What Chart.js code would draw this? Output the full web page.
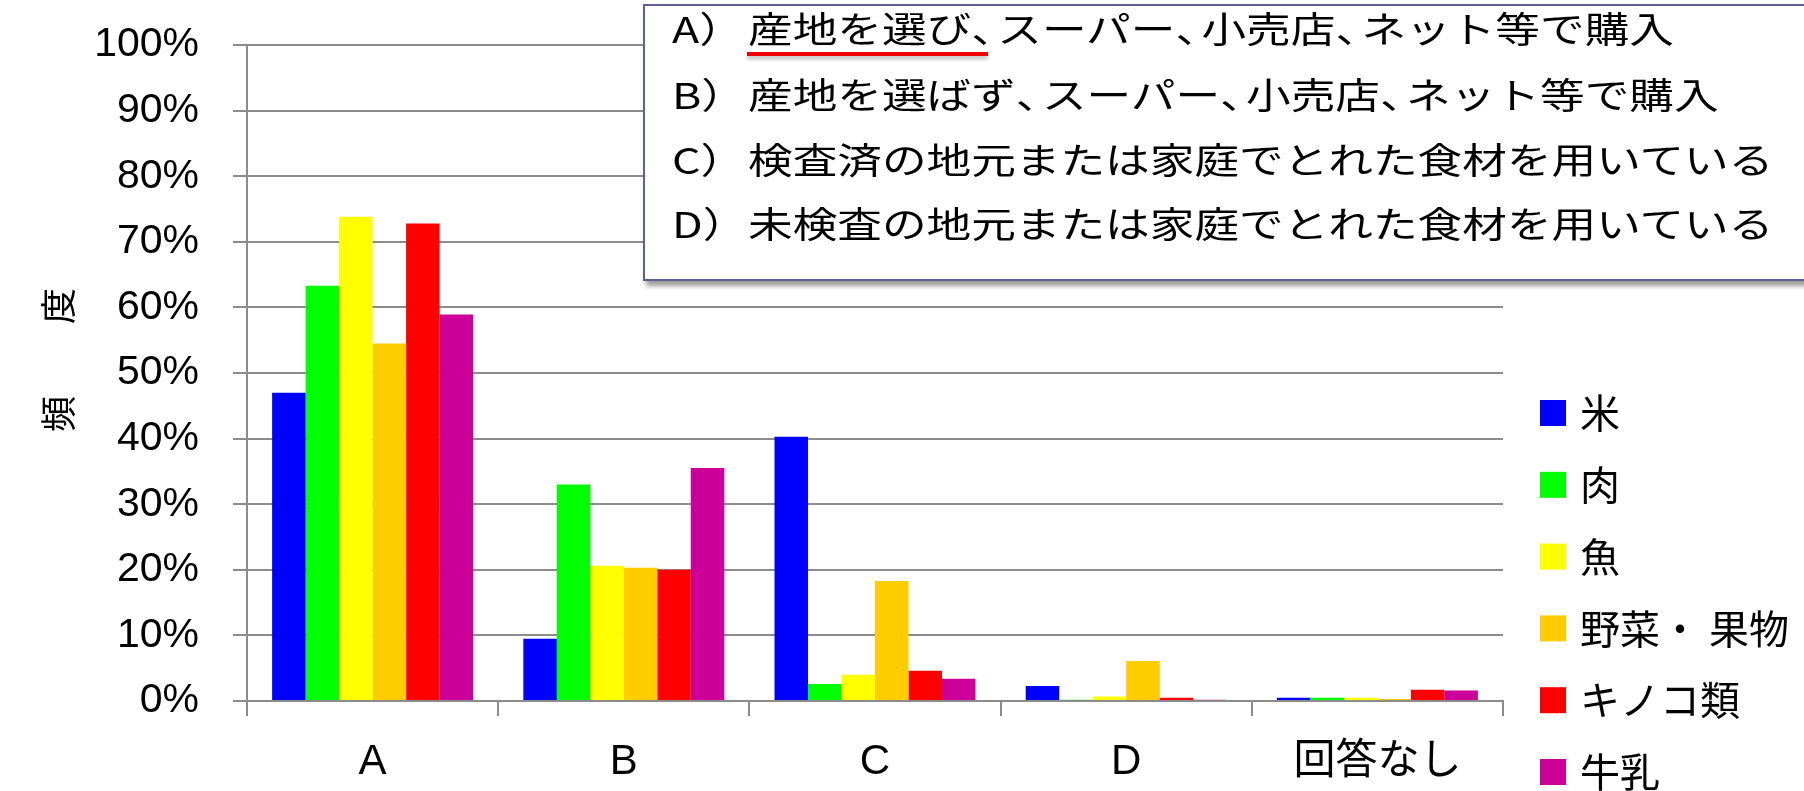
<!DOCTYPE html>
<html lang="ja">
<head>
    <meta charset="UTF-8">
    <title>食材の購入方法 - 頻度</title>
    <script src="https://cdn.jsdelivr.net/npm/chart.js"></script>
    <style>
        body {
            margin: 0;
            background: #ffffff;
            overflow: hidden;
        }
        .wrap {
            position: relative;
            width: 1804px;
            height: 791px;
            overflow: hidden;
        }
        /* 回答項目の説明ボックス */
        .note-box {
            position: absolute;
            left: 643px;
            top: 4px;
            width: 1250px;
            height: 273px;
            border: 2px solid #5f5f93;
            background: #ffffff;
            box-shadow: 3px 5px 5px rgba(0, 0, 0, 0.4);
        }
        .note-line {
            position: absolute;
            height: 64px;
            line-height: 64px;
            font-family: "Noto Sans CJK JP", sans-serif;
            font-size: 36px;
            font-weight: 400;
            color: #000000;
            white-space: nowrap;
            transform: scaleX(1.24);
            transform-origin: left center;
        }
        /* 読点は半角幅で詰める */
        .half {
            font-feature-settings: "halt";
            padding-right: 3px;
        }
        .mark {
            position: absolute;
            left: 747px;
            top: 52px;
            width: 241px;
            height: 4px;
            background: #ee0000;
            box-shadow: 0px 3px 4px rgba(0, 0, 0, 0.3);
        }
    </style>
</head>
<body>
<div class="wrap">
    <canvas id="freqChart" width="1804" height="791"></canvas>

    <div class="note-box"></div>
    <div class="note-line" style="left:672px; top:-5px;">A）</div>
    <div class="note-line" style="left:748px; top:-5px;">産地を選び<span class="half">、</span>スーパー<span class="half">、</span>小売店<span class="half">、</span>ネット等で購入</div>
    <div class="note-line" style="left:672px; top:61px;">B）</div>
    <div class="note-line" style="left:748px; top:61px;">産地を選ばず<span class="half">、</span>スーパー<span class="half">、</span>小売店<span class="half">、</span>ネット等で購入</div>
    <div class="note-line" style="left:672px; top:126px;">C）</div>
    <div class="note-line" style="left:748px; top:126px;">検査済の地元または家庭でとれた食材を用いている</div>
    <div class="note-line" style="left:672px; top:190px;">D）</div>
    <div class="note-line" style="left:748px; top:190px;">未検査の地元または家庭でとれた食材を用いている</div>
    <div class="mark"></div>
</div>

<script>
    // 回答カテゴリ
    const categories = ['A', 'B', 'C', 'D', '回答なし'];

    // 食材ごとの割合 (%)
    const rice       = [47.0,  9.5, 40.3, 2.3, 0.5];
    const meat       = [63.3, 33.0,  2.6, 0.2, 0.5];
    const fish       = [73.8, 20.6,  4.0, 0.7, 0.5];
    const vegFruit   = [54.5, 20.3, 18.3, 6.1, 0.3];
    const mushrooms  = [72.8, 20.0,  4.6, 0.5, 1.7];
    const milk       = [58.9, 35.5,  3.4, 0.2, 1.6];

    const seriesNames  = ['米', '肉', '魚', '野菜・ 果物', 'キノコ類', '牛乳'];
    const seriesValues = [rice, meat, fish, vegFruit, mushrooms, milk];
    const seriesColors = ['#0000ff', '#00ff00', '#ffff00', '#ffcc00', '#ff0000', '#cc0099'];

    // 目盛り 0%〜100%
    const yMin = 0;
    const yMax = 100;
    const yStep = 10;

    const gridGray = '#8c8c8c';

    // 右側の凡例と縦軸タイトル
    const sideLegend = {
        id: 'sideLegend',
        afterDraw(chart) {
            const ctx = chart.ctx;
            const area = chart.chartArea;
            ctx.save();
            ctx.font = '40px "Noto Sans CJK JP"';
            ctx.textBaseline = 'middle';
            ctx.textAlign = 'left';
            chart.data.datasets.forEach((ds, i) => {
                const y = 413 + i * 71.8;
                ctx.fillStyle = ds.backgroundColor;
                ctx.fillRect(area.right + 37, y - 13, 26, 26);
                ctx.fillStyle = '#000000';
                ctx.fillText(ds.label, area.right + 77, y);
            });

            ctx.translate(58, 360);
            ctx.rotate(-Math.PI / 2);
            ctx.textAlign = 'center';
            ctx.font = '36px "Noto Sans CJK JP"';
            ctx.fillText('頻　　度', 0, 0);
            ctx.restore();
        }
    };

    new Chart(document.getElementById('freqChart'), {
        type: 'bar',
        data: {
            labels: categories,
            datasets: seriesNames.map((name, i) => ({
                label: name,
                data: seriesValues[i],
                backgroundColor: seriesColors[i],
                borderWidth: 0,
                categoryPercentage: 0.8,
                barPercentage: 1.0
            }))
        },
        options: {
            responsive: false,
            animation: false,
            layout: {
                padding: { top: 45, right: 301, bottom: 0, left: 0 }
            },
            plugins: {
                legend: { display: false },
                tooltip: { enabled: false }
            },
            scales: {
                x: {
                    afterFit(scale) { scale.height = 90; },
                    grid: {
                        drawOnChartArea: false,
                        drawTicks: true,
                        tickLength: 15,
                        color: gridGray,
                        lineWidth: 2,
                        offset: true
                    },
                    border: { display: true, color: gridGray, width: 2 },
                    ticks: {
                        color: '#000000',
                        padding: 21,
                        maxRotation: 0,
                        font: { family: '"Liberation Sans", "Noto Sans CJK JP"', size: 42 }
                    }
                },
                y: {
                    min: yMin,
                    max: yMax,
                    afterFit(scale) {
                        // ラベル余白は上の padding で確保しているので縦方向の追加余白は不要
                        scale.width = 247;
                        scale.paddingTop = 0;
                        scale.paddingBottom = 0;
                    },
                    grid: {
                        color: gridGray,
                        lineWidth: 2,
                        tickLength: 14
                    },
                    border: { display: true, color: gridGray, width: 2 },
                    ticks: {
                        stepSize: yStep,
                        color: '#000000',
                        padding: 34,
                        font: { family: '"Liberation Sans"', size: 41 },
                        callback: v => v + '%'
                    }
                }
            }
        },
        plugins: [sideLegend]
    });
</script>
</body>
</html>
